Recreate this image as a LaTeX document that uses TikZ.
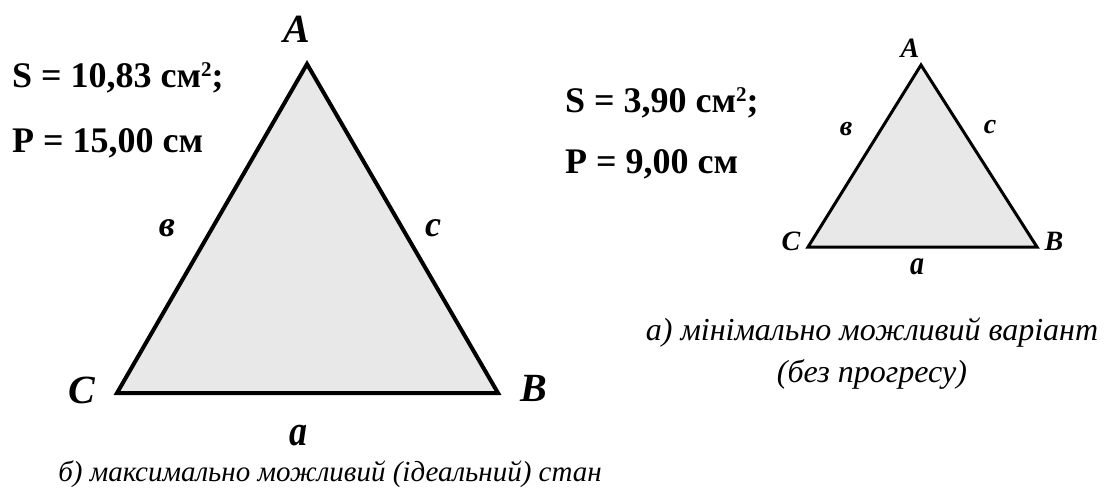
\documentclass[tikz,border=0pt]{standalone}
\usepackage{fontspec}
\setmainfont{Liberation Serif}
\usepackage{tikz}
\usetikzlibrary{positioning}
\definecolor{trifill}{HTML}{E8E8E8}
\newcommand{\sqsup}{\raisebox{11pt}{\fontsize{21}{21}\selectfont 2}}
\newcommand{\tallA}[1]{\scalebox{1}[1.2]{#1}}
\tikzset{
    tri/.style={draw, line width=4pt, line join=miter, fill=trifill},
    vlbl/.style={font=\bfseries\itshape\fontsize{40}{44}\selectfont, inner sep=0pt},
    slbl/.style={font=\bfseries\itshape\fontsize{36}{40}\selectfont, inner sep=0pt},
    vlblsm/.style={font=\bfseries\itshape\fontsize{28}{32}\selectfont, inner sep=0pt},
    slblsm/.style={font=\bfseries\itshape\fontsize{28}{32}\selectfont, inner sep=0pt},
    formula/.style={font=\bfseries\fontsize{36}{40}\selectfont, anchor=base west, inner sep=0pt},
    caption/.style={font=\itshape\fontsize{29}{40}\selectfont, align=center, inner sep=0pt},
}

\begin{document}
\begin{tikzpicture}[x=1pt, y=-1pt]
    \useasboundingbox (0,0) rectangle (1107,499);
    % big triangle (ideal state)
    \coordinate (bigA) at (307,64);
    \coordinate (bigB) at (498,393);
    \coordinate (bigC) at (117,393);
    \draw[tri] (bigA) -- (bigB) -- (bigC) -- cycle;
    \node[vlbl] (lblbigA) at (297,29)  {A};
    \node[vlbl] (lblbigB) at (534,388) {B};
    \node[vlbl] (lblbigC) at (82,390)  {C};
    \node[slbl] (lblbiga) at (298,436) {\tallA{a}};
    \node[slbl] (lblbigb) at (167,228) {в};
    \node[slbl] (lblbigc) at (433,228) {c};
    \node[formula] (sbig) at (12,87)  {S = 10,83 см\sqsup;};
    \node[formula] (pbig) at (12,152) {P = 15,00 см};
    \node[caption] (capbig) at (330,474) {б) максимально можливий (ідеальний) стан};
    % small triangle (no progress)
    \coordinate (smA) at (921,65);
    \coordinate (smB) at (1037,247);
    \coordinate (smC) at (808,247);
    \draw[tri, line width=3pt] (smA) -- (smB) -- (smC) -- cycle;
    \node[vlblsm] (lblsmA) at (910,48)  {A};
    \node[vlblsm] (lblsmB) at (1054,241) {B};
    \node[vlblsm] (lblsmC) at (791,241)  {C};
    \node[slblsm] (lblsma) at (917,267) {\tallA{a}};
    \node[slblsm] (lblsmb) at (846,129) {в};
    \node[slblsm] (lblsmc) at (990,127) {c};
    \node[formula] (ssm) at (565,112) {S = 3,90 см\sqsup;};
    \node[formula] (psm) at (565,173) {P = 9,00 см};
    \node[caption, font=\itshape\fontsize{32}{42}\selectfont] (capsm) at (872,354) {а) мінімально можливий варіант\\(без прогресу)};
\end{tikzpicture}
\end{document}
